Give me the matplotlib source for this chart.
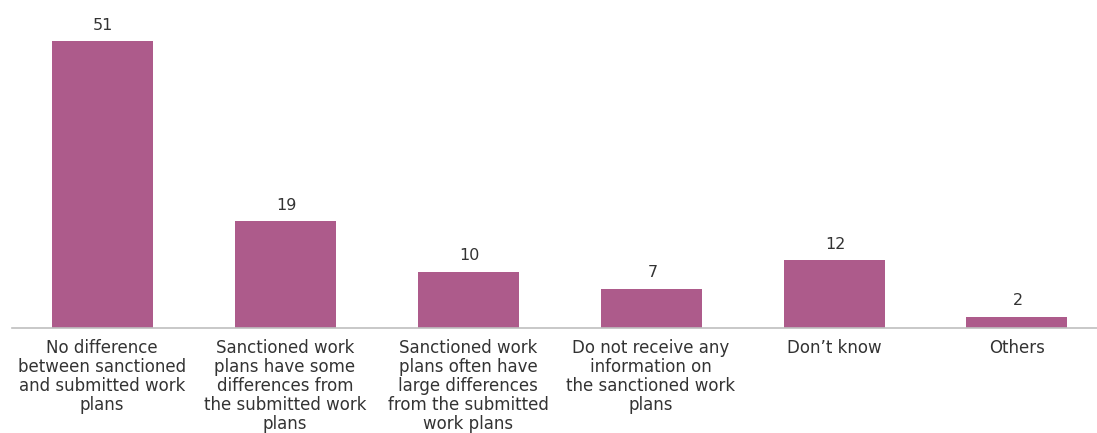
import matplotlib
matplotlib.use("Agg")
import matplotlib.pyplot as plt

categories = [
    "No difference\nbetween sanctioned\nand submitted work\nplans",
    "Sanctioned work\nplans have some\ndifferences from\nthe submitted work\nplans",
    "Sanctioned work\nplans often have\nlarge differences\nfrom the submitted\nwork plans",
    "Do not receive any\ninformation on\nthe sanctioned work\nplans",
    "Don\u2019t know",
    "Others",
]
values = [51, 19, 10, 7, 12, 2]

W, H = 1097, 433
fig = plt.figure(figsize=(W / 100, H / 100), dpi=100)
left_px, base_px = 12, 328
ax = fig.add_axes([left_px / W, (H - base_px) / H, 1 - left_px / W, base_px / H])

pitch = 183.0
c0 = 102.0
ax.set_xlim(-(c0 - left_px) / pitch, (W - c0) / pitch)
scale = (328 - 41) / 51.0
ax.set_ylim(0, base_px / scale)

color = "#AD5B8B"
xs = range(len(values))
ax.bar(xs, values, width=101 / pitch, color=color, zorder=2)
for x, v in zip(xs, values):
    ax.annotate(str(v), (x, v), xytext=(1, 6), textcoords="offset points",
                ha="center", va="bottom", fontsize=11.5, color="#333333")
for x, c in zip(xs, categories):
    ax.annotate(c, (x, 0), xytext=(0, -8), textcoords="offset points",
                ha="center", va="top", fontsize=12, color="#333333",
                linespacing=1.07, annotation_clip=False)

for s in ["top", "right", "left"]:
    ax.spines[s].set_visible(False)
ax.spines["bottom"].set_color("#BFBFBF")
ax.spines["bottom"].set_linewidth(1.2)
ax.set_xticks([])
ax.set_yticks([])
ax.patch.set_alpha(0)

fig.savefig("out.png", dpi=100)
